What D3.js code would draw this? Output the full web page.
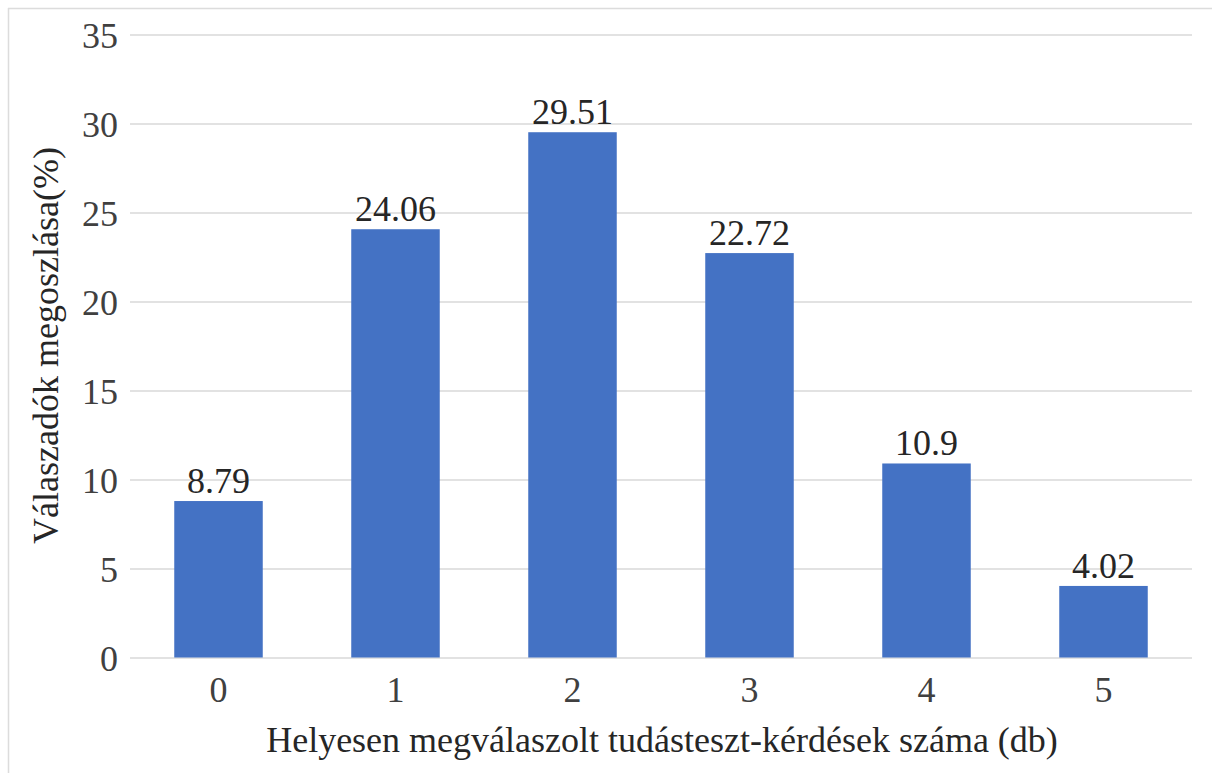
<!DOCTYPE html>
<html>
<head>
<meta charset="utf-8">
<script src="https://cdn.jsdelivr.net/npm/d3@7"></script>
<style>
  html, body { margin: 0; padding: 0; background: #fff; }
  svg { display: block; }
</style>
</head>
<body>
<svg id="chart" width="1212" height="773"></svg>
<script>
const categories = ["0", "1", "2", "3", "4", "5"];
const values = [8.79, 24.06, 29.51, 22.72, 10.9, 4.02];
const yTicks = [0, 5, 10, 15, 20, 25, 30, 35];
const xTitle = "Helyesen megválaszolt tudásteszt-kérdések száma (db)";
const yTitle = "Válaszadók megoszlása(%)";

const FONT = "Liberation Serif";
const FS = 36;
const svg = d3.select("#chart");
const W = 1212, H = 773;
const x0 = 130, x1 = 1192;
const yTop = 34.5, yBot = 657.5;

// frame (top + left edge)
svg.append("line").attr("x1", 8).attr("x2", W).attr("y1", 8.5).attr("y2", 8.5)
  .attr("stroke", "#dcdcdc").attr("stroke-width", 1.5);
svg.append("line").attr("x1", 8.5).attr("x2", 8.5).attr("y1", 8).attr("y2", H)
  .attr("stroke", "#dcdcdc").attr("stroke-width", 1.5);

const x = d3.scaleBand().domain(categories).range([x0, x1]).paddingInner(0.5).paddingOuter(0.25);
const y = d3.scaleLinear().domain([0, 35]).range([yBot, yTop]);

// gridlines + y tick labels
const yAxis = d3.axisLeft(y).tickValues(yTicks).tickSize(-(x1 - x0)).tickPadding(12).tickFormat(d3.format("d"));
const gy = svg.append("g").attr("transform", `translate(${x0},0)`).call(yAxis);
gy.attr("font-family", FONT).attr("font-size", FS);
gy.select(".domain").remove();
gy.selectAll(".tick line").attr("stroke", "#d9d9d9").attr("stroke-width", 1.5);
gy.selectAll(".tick text").attr("fill", "#404040").attr("dy", null).attr("y", 13);

// bars
svg.append("g").selectAll("rect").data(values).join("rect")
  .attr("x", (d, i) => x(categories[i]))
  .attr("width", x.bandwidth())
  .attr("y", d => y(d))
  .attr("height", d => y(0) - y(d))
  .attr("fill", "#4472c4");

// data labels
svg.append("g").selectAll("text").data(values).join("text")
  .attr("x", (d, i) => x(categories[i]) + x.bandwidth() / 2)
  .attr("y", d => y(d) - 8)
  .attr("text-anchor", "middle")
  .attr("fill", "#262626")
  .attr("font-family", FONT).attr("font-size", FS)
  .text(d => String(d));

// x axis labels
const xAxis = d3.axisBottom(x).tickSize(0).tickPadding(0);
const gx = svg.append("g").attr("transform", `translate(0,${yBot})`).call(xAxis);
gx.attr("font-family", FONT).attr("font-size", FS);
gx.select(".domain").remove();
gx.selectAll(".tick text").attr("fill", "#404040").attr("dy", null).attr("y", 44);

// axis titles
svg.append("text").attr("x", 662).attr("y", 752).attr("text-anchor", "middle")
  .attr("fill", "#262626").attr("font-family", FONT).attr("font-size", FS).text(xTitle);
svg.append("text").attr("transform", "translate(58,345.5) rotate(-90)").attr("text-anchor", "middle")
  .attr("fill", "#262626").attr("font-family", FONT).attr("font-size", FS).text(yTitle);
</script>
</body>
</html>
